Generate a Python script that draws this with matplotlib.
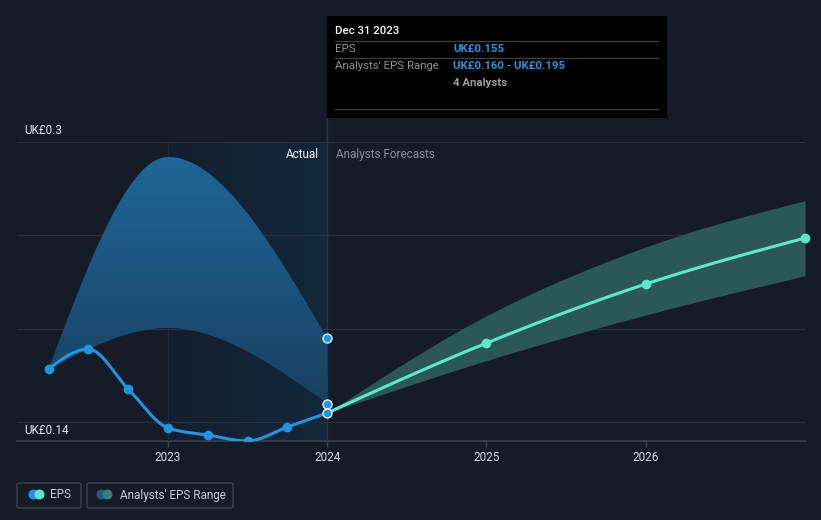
import numpy as np
import matplotlib
matplotlib.use("Agg")
import matplotlib.pyplot as plt
from matplotlib.patches import Polygon, Rectangle, FancyBboxPatch, Ellipse
from matplotlib.colors import LinearSegmentedColormap

plt.rcParams["font.family"] = ["Roboto", "DejaVu Sans"]

# Data (decimal years, EPS in GBP)
eps_dates = [2022.25, 2022.5, 2022.75, 2023.0, 2023.25, 2023.5, 2023.75, 2024.0]
eps_values = [0.1785, 0.1892, 0.1678, 0.147, 0.1432, 0.140, 0.1475, 0.155]

range_dates = [2022.25, 2023.0, 2024.0]
range_low = [0.1785, 0.2005, 0.160]
range_high = [0.1785, 0.292, 0.195]

fc_dates = [2024.0, 2025.0, 2026.0, 2027.0]
fc_eps = [0.155, 0.1924, 0.224, 0.2486]
fc_low = [0.155, 0.183, 0.2074, 0.2284]
fc_high = [0.155, 0.207, 0.2438, 0.2686]

grid_vals = [0.15, 0.2, 0.25, 0.3]
year_ticks = [2023, 2024, 2025, 2026]

# Colours
BG = "#161c27"
BLUE = "#2394df"
MINT = "#5ee6cf"
GRID = "#2a303b"
AXIS = "#3c414b"

W, H = 821, 520


def fx(px):
    return px / W


def fy(py):
    return 1 - py / H


def monotone(xs, ys, n=40):
    # monotone cubic (d3 curveMonotoneX style) used only for drawing
    xs = np.asarray(xs, float)
    ys = np.asarray(ys, float)
    h = np.diff(xs)
    s = np.diff(ys) / h
    m = np.zeros(len(xs))
    if len(xs) > 2:
        for i in range(1, len(xs) - 1):
            p = (s[i - 1] * h[i] + s[i] * h[i - 1]) / (h[i - 1] + h[i])
            m[i] = (np.sign(s[i - 1]) + np.sign(s[i])) * min(abs(s[i - 1]), abs(s[i]), 0.5 * abs(p))
        m[0] = (3 * s[0] - m[1]) / 2
        m[-1] = (3 * s[-1] - m[-2]) / 2
    else:
        m[:] = s[0]
    out_x, out_y = [], []
    for i in range(len(xs) - 1):
        t = np.linspace(0, 1, n, endpoint=(i == len(xs) - 2))
        h00 = 2 * t**3 - 3 * t**2 + 1
        h10 = t**3 - 2 * t**2 + t
        h01 = -2 * t**3 + 3 * t**2
        h11 = t**3 - t**2
        out_x.append(xs[i] + t * h[i])
        out_y.append(h00 * ys[i] + h10 * h[i] * m[i] + h01 * ys[i + 1] + h11 * h[i] * m[i + 1])
    return np.concatenate(out_x), np.concatenate(out_y)


fig = plt.figure(figsize=(W / 100, H / 100), dpi=100, facecolor=BG)
ax = fig.add_axes([fx(17), fy(441), fx(805) - fx(17), (441 - 142) / H])
ax.set_facecolor(BG)
XLIM = (2022.052, 2027.0)
YLIM = (0.14, 0.30)

# highlighted "actual" period
hl = LinearSegmentedColormap.from_list("hl", ["#141f2e", "#13283c"])
ax.imshow(np.linspace(0, 1, 64).reshape(1, -1), extent=[2023.0, 2024.0, 0.14, 0.30],
          aspect="auto", cmap=hl, origin="lower", zorder=0)

for v in grid_vals:
    ax.axhline(v, color=GRID, lw=0.9, zorder=1)
ax.axhline(0.14, color=AXIS, lw=1.2, zorder=1, clip_on=False)
ax.plot([2023, 2023], [0.14, 0.30], color="#1c2d40", lw=0.9, zorder=1)
ax.plot([2024, 2024], [0.14, 0.14 + (441 - 118) / 1869], color="#22364d", lw=1.0,
        zorder=1, clip_on=False)

# actual analysts range with vertical gradient
ux, uy = monotone(range_dates, range_high)
lx, ly = monotone(range_dates, range_low)
verts = np.column_stack([np.concatenate([ux, lx[::-1]]), np.concatenate([uy, ly[::-1]])])
poly = Polygon(verts, closed=True, facecolor="none", edgecolor="none")
ax.add_patch(poly)
bcm = LinearSegmentedColormap.from_list("band", ["#183a58", "#1f6698"])
im = ax.imshow(np.linspace(0, 1, 128).reshape(-1, 1), extent=[2022.25, 2024.0, 0.14, 0.292],
               aspect="auto", cmap=bcm, origin="lower", zorder=2)
im.set_clip_path(poly)

# forecast range
fux, fuy = monotone(fc_dates, fc_high)
flx, fly = monotone(fc_dates, fc_low)
ax.fill_between(fux, fly, fuy, color="#2c5757", lw=0, zorder=2)

# EPS lines
ex, ey = monotone(eps_dates, eps_values)
ax.plot(ex, ey, color=BLUE, lw=2.2, zorder=4, solid_capstyle="round")
ax.plot(eps_dates[:-1], eps_values[:-1], "o", color=BLUE, ms=6, zorder=5)
fxs, fys = monotone(fc_dates, fc_eps)
ax.plot(fxs, fys, color=MINT, lw=2.2, zorder=4, solid_capstyle="round")
ax.plot(fc_dates[1:], fc_eps[1:], "o", color=MINT, ms=6, zorder=5, clip_on=False)

# highlighted points at Dec 31 2023
ax.plot([2024.0] * 3, [range_high[-1], range_low[-1], eps_values[-1]], "o", color=BLUE,
        ms=6.5, mec="white", mew=0.9, zorder=6)

ax.set_xlim(*XLIM)
ax.set_ylim(*YLIM)
for sp in ax.spines.values():
    sp.set_visible(False)
ax.set_yticks([])
ax.set_xticks(year_ticks)
ax.set_xticklabels([str(y) for y in year_ticks])
ax.tick_params(axis="x", length=4.5, width=1, color=AXIS, pad=2.5, labelsize=8.5,
               labelcolor="#d6d9de")

# y labels
fig.text(fx(24), fy(130), "UK£0.3", color="#e2e4e8", fontsize=8.5, va="center")
fig.text(fx(24), fy(430), "UK£0.14", color="#e2e4e8", fontsize=8.5, va="center")

# period labels
fig.text(fx(319), fy(154), "Actual", color="#f0f2f4", fontsize=8.5, va="center", ha="right")
fig.text(fx(336), fy(154), "Analysts Forecasts", color="#8a9099", fontsize=8.5, va="center")

# tooltip
fig.patches.append(Rectangle((fx(327), fy(118)), fx(667) - fx(327), (118 - 16) / H,
                             transform=fig.transFigure, facecolor="black", edgecolor="none",
                             zorder=10))
for yy in [41.5, 58, 109]:
    fig.lines.append(plt.Line2D([fx(335), fx(659)], [fy(yy), fy(yy)], transform=fig.transFigure,
                                color="#3d3f44", lw=0.9, zorder=11))
fig.text(fx(335), fy(31), "Dec 31 2023", color="white", fontsize=8.2, va="center",
         fontweight="medium", zorder=12)
fig.text(fx(335), fy(49), "EPS", color="#8e939a", fontsize=8.2, va="center", zorder=12)
fig.text(fx(453), fy(49), "UK£0.155", color=BLUE, fontsize=8.2, va="center",
         fontweight="bold", zorder=12)
fig.text(fx(335), fy(66), "Analysts' EPS Range", color="#8e939a", fontsize=8.2, va="center",
         zorder=12)
fig.text(fx(453), fy(66), "UK£0.160 - UK£0.195", color=BLUE, fontsize=8.2, va="center",
         fontweight="bold", zorder=12)
fig.text(fx(453), fy(83), "4 Analysts", color="#9a9ea5", fontsize=8.2, va="center",
         fontweight="bold", zorder=12)

# legend
for x0, x1 in [(17, 81), (87, 233)]:
    fig.patches.append(FancyBboxPatch((fx(x0), fy(508)), fx(x1) - fx(x0), (508 - 483) / H,
                                      boxstyle="round,pad=0,rounding_size=0.003",
                                      transform=fig.transFigure, facecolor="none",
                                      edgecolor="#3e434c", lw=1.0))
for cx, col in [(33.5, BLUE), (39.5, MINT), (101.5, "#1e5a88"), (107.5, "#3b7f7c")]:
    fig.patches.append(Ellipse((fx(cx), fy(494.5)), 10 / W, 10 / H, transform=fig.transFigure,
                               facecolor=col, edgecolor="none"))
fig.text(fx(50), fy(495), "EPS", color="#c9cdd3", fontsize=8.5, va="center")
fig.text(fx(120), fy(495), "Analysts' EPS Range", color="#c9cdd3", fontsize=8.5, va="center")

fig.savefig("out.png", dpi=100, facecolor=BG)
